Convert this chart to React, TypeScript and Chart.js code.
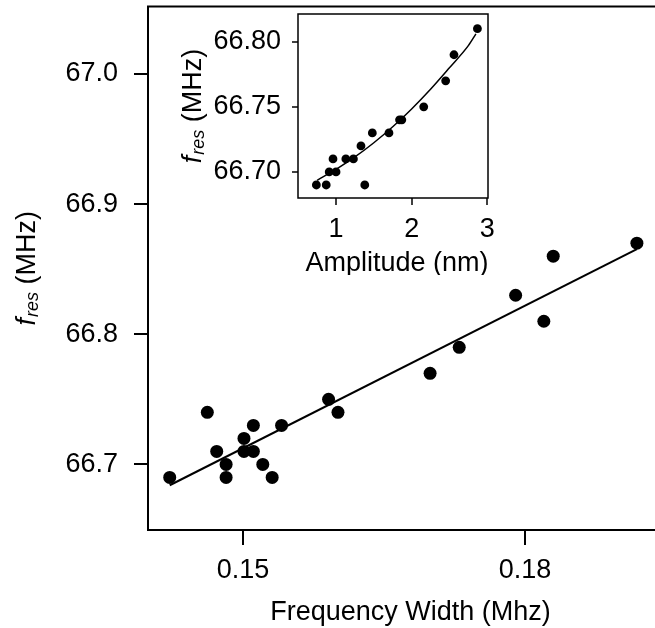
import React, { useEffect, useRef } from "react";
import { Chart, registerables } from "chart.js";

Chart.register(...registerables);

const FONT = '"Liberation Sans", Arial, Helvetica, sans-serif';

// Main panel: resonance frequency vs frequency width
const widthMHz = [0.1422, 0.1462, 0.1472, 0.1482, 0.1482, 0.1501, 0.1501, 0.1511, 0.1511, 0.1521, 0.1531, 0.1541, 0.1591, 0.1601, 0.1699, 0.1730, 0.1790, 0.1820, 0.1830, 0.1919];
const fresMain = [66.69, 66.74, 66.71, 66.70, 66.69, 66.72, 66.71, 66.71, 66.73, 66.70, 66.69, 66.73, 66.75, 66.74, 66.77, 66.79, 66.83, 66.81, 66.86, 66.87];
const fitWidth = [0.1422, 0.1919];
const fitFres = [66.684, 66.8655];
const mainXTicks = [0.15, 0.18];
const mainYTicks = [66.7, 66.8, 66.9, 67.0];

// Inset: resonance frequency vs amplitude
const amplitudeNm = [0.74, 0.87, 0.91, 0.96, 1.0, 1.13, 1.23, 1.33, 1.38, 1.48, 1.70, 1.84, 1.87, 2.16, 2.45, 2.56, 2.87];
const fresInset = [66.69, 66.69, 66.70, 66.71, 66.70, 66.71, 66.71, 66.72, 66.69, 66.73, 66.73, 66.74, 66.74, 66.75, 66.77, 66.79, 66.81];
const curveAmp = [0.75, 1.0, 1.25, 1.5, 1.75, 2.0, 2.25, 2.5, 2.75, 2.85];
const curveFres = [66.6936, 66.702, 66.7115, 66.7224, 66.7347, 66.7484, 66.7635, 66.780, 66.797, 66.806];
const insetXTicks = [1, 2, 3];
const insetYTicks = [66.70, 66.75, 66.80];

const mainXTitle = "Frequency Width (Mhz)";
const insetXTitle = "Amplitude (nm)";

function drawFresTitle(ctx: CanvasRenderingContext2D, bx: number, cy: number, size: number, sub: number) {
  ctx.save();
  ctx.translate(bx, cy);
  ctx.rotate(-Math.PI / 2);
  ctx.fillStyle = "#000";
  ctx.textAlign = "left";
  ctx.textBaseline = "alphabetic";
  const fF = `italic ${size}px ${FONT}`;
  const sF = `italic ${sub}px ${FONT}`;
  const rF = `${size}px ${FONT}`;
  ctx.font = fF; const w1 = ctx.measureText("f").width + 1;
  ctx.font = sF; const w2 = ctx.measureText("res").width;
  ctx.font = rF; const w3 = ctx.measureText(" (MHz)").width;
  let x = -(w1 + w2 + w3) / 2;
  ctx.font = fF; ctx.fillText("f", x, 0); x += w1;
  ctx.font = sF; ctx.fillText("res", x, 3); x += w2;
  ctx.font = rF; ctx.fillText(" (MHz)", x, 0);
  ctx.restore();
}

function makeDecor(id: string, lw: number, xTitle: string, xTitleY: number, yTitleX: number, size: number, sub: number) {
  return {
    id,
    afterDraw(chart: any) {
      const { ctx, chartArea: a } = chart;
      ctx.save();
      ctx.strokeStyle = "#000";
      ctx.lineWidth = lw;
      ctx.strokeRect(a.left, a.top, a.right - a.left, a.bottom - a.top);
      ctx.fillStyle = "#000";
      ctx.font = `${size}px ${FONT}`;
      ctx.textAlign = "center";
      ctx.textBaseline = "alphabetic";
      ctx.fillText(xTitle, (a.left + a.right) / 2 + 4, xTitleY);
      ctx.restore();
      drawFresTitle(ctx, yTitleX, (a.top + a.bottom) / 2, size, sub);
    },
  };
}

function axis(min: number, max: number, ticks: number[], digits: number, tl: number, tw: number, pad: number, size: number, fitKey: "width" | "height", fitVal: number) {
  return {
    type: "linear" as const,
    min,
    max,
    border: { display: false },
    grid: { display: true, drawOnChartArea: false, drawTicks: true, tickLength: tl, tickWidth: tw, tickColor: "#000", color: "#000", lineWidth: 0 },
    ticks: {
      color: "#000",
      font: { family: FONT, size },
      padding: pad,
      callback: (v: any) => Number(v).toFixed(digits),
    },
    afterBuildTicks: (s: any) => { s.ticks = ticks.map((v) => ({ value: v })); },
    afterFit: (s: any) => {
      s[fitKey] = fitVal;
      s.paddingTop = 0;
      s.paddingBottom = 0;
      s.paddingLeft = 0;
      s.paddingRight = 0;
    },
  };
}

export default function App() {
  const mainRef = useRef<HTMLCanvasElement>(null);
  const insetRef = useRef<HTMLCanvasElement>(null);

  useEffect(() => {
    const main = new Chart(mainRef.current!, {
      type: "scatter",
      data: {
        datasets: [
          {
            type: "line",
            data: fitWidth.map((x, i) => ({ x, y: fitFres[i] })),
            borderColor: "#000",
            borderWidth: 2,
            pointRadius: 0,
            fill: false,
          } as any,
          {
            data: widthMHz.map((x, i) => ({ x, y: fresMain[i] })),
            backgroundColor: "#000",
            borderWidth: 0,
            pointRadius: 6.5,
          },
        ],
      },
      options: {
        animation: false,
        responsive: false,
        devicePixelRatio: 1,
        layout: { padding: { left: 0, top: 3, right: 15, bottom: 0 } },
        plugins: { legend: { display: false }, tooltip: { enabled: false } },
        scales: {
          x: axis(0.13989, 0.19489, mainXTicks, 2, 15, 2, 9, 27, "height", 98),
          y: axis(66.6496, 67.0519, mainYTicks, 1, 14, 2, 16, 27, "width", 148),
        },
      },
      plugins: [makeDecor("mainDecor", 2, mainXTitle, 620, 35, 27, 18)],
    });

    const inset = new Chart(insetRef.current!, {
      type: "scatter",
      data: {
        datasets: [
          {
            type: "line",
            data: curveAmp.map((x, i) => ({ x, y: curveFres[i] })),
            borderColor: "#000",
            borderWidth: 1.5,
            pointRadius: 0,
            fill: false,
            cubicInterpolationMode: "monotone",
          } as any,
          {
            data: amplitudeNm.map((x, i) => ({ x, y: fresInset[i] })),
            backgroundColor: "#000",
            borderWidth: 0,
            pointRadius: 4.4,
          },
        ],
      },
      options: {
        animation: false,
        responsive: false,
        devicePixelRatio: 1,
        layout: { padding: { left: 0, top: 14, right: 22, bottom: 0 } },
        plugins: { legend: { display: false }, tooltip: { enabled: false } },
        scales: {
          x: axis(0.497, 3.01, insetXTicks, 0, 7, 1.5, 8, 27, "height", 77),
          y: axis(66.68, 66.8213, insetYTicks, 2, 6, 1.5, 11, 27, "width", 128),
        },
      },
      plugins: [makeDecor("insetDecor", 1.5, insetXTitle, 271, 31, 27, 18)],
    });

    return () => {
      main.destroy();
      inset.destroy();
    };
  }, []);

  return (
    <div style={{ position: "absolute", left: 0, top: 0, width: 655, height: 628, overflow: "hidden", background: "#fff" }}>
      <canvas ref={mainRef} width={680} height={628} style={{ position: "absolute", left: 0, top: 0, width: 680, height: 628 }} />
      <canvas ref={insetRef} width={340} height={275} style={{ position: "absolute", left: 170, top: 0, width: 340, height: 275 }} />
    </div>
  );
}
